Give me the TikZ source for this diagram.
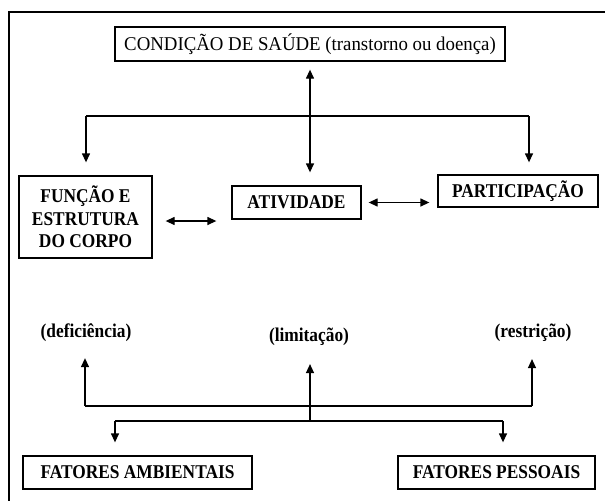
\documentclass[tikz,border=0pt]{standalone}
\usepackage{fontspec}
\setmainfont[FakeStretch=0.89]{Liberation Serif}
\newfontfamily\largafont[FakeStretch=0.965]{Liberation Serif}
\usetikzlibrary{shapes,arrows,arrows.meta,positioning,calc}

\begin{document}
\begin{tikzpicture}[x=1pt, y=-1pt, >={Stealth[length=9pt,width=8pt,inset=0pt]}]
    \tikzstyle{caixa} = [rectangle, draw, line width=1.3pt, inner sep=0pt, align=center, font=\fontsize{19.5}{22.5}\selectfont\bfseries]
    \tikzstyle{rotulo} = [inner sep=0pt, font=\fontsize{19.5}{22.5}\selectfont\bfseries]
    \tikzstyle{liga} = [line width=1.3pt]

    \useasboundingbox (0,0) rectangle (605,501);
    % Moldura
    \draw[line width=1.3pt] (605,12) -- (9,12) -- (9,501);

    % Nós
    \node[caixa, minimum width=390pt, minimum height=34pt, font=\fontsize{19.5}{22.5}\largafont] (saude) at (310,44)
        {CONDIÇÃO DE SAÚDE (transtorno ou doença)};
    \node[caixa, minimum width=133pt, minimum height=82pt] (corpo) at (85.5,217)
        {FUNÇÃO E\\ESTRUTURA\\DO CORPO};
    \node[caixa, minimum width=129pt, minimum height=33pt] (atividade) at (296.5,202.5) {ATIVIDADE};
    \node[caixa, minimum width=160pt, minimum height=32pt] (participacao) at (518,191) {PARTICIPAÇÃO};

    \node[rotulo] (deficiencia) at (86,333) {(deficiência)};
    \node[rotulo] (limitacao) at (309,337) {(limitação)};
    \node[rotulo] (restricao) at (533,333) {(restrição)};

    \node[caixa, minimum width=229pt, minimum height=33pt] (ambientais) at (137.5,472.5) {FATORES AMBIENTAIS};
    \node[caixa, minimum width=197pt, minimum height=33pt] (pessoais) at (496.5,472.5) {FATORES PESSOAIS};

    % Pontos de junção
    \coordinate (centro) at (310,116);
    \coordinate (esqA) at (86,116);
    \coordinate (dirA) at (529,116);
    \coordinate (esqB) at (85,406);
    \coordinate (dirB) at (532,406);
    \coordinate (centroB) at (310,421);
    \coordinate (esqC) at (115,421);
    \coordinate (dirC) at (503,421);

    % Ligações
    \draw[liga, <->, shorten <=8pt, shorten >=13pt] (saude.south -| centro) -- (atividade.north -| centro);
    \draw[liga] (esqA) -- (dirA);
    \draw[liga, ->, shorten >=13pt] (esqA) -- (esqA |- corpo.north);
    \draw[liga, ->, shorten >=12pt] (dirA) -- (dirA |- participacao.north);
    \draw[liga, <->, shorten <=13pt, shorten >=15pt] ([yshift=-4pt]corpo.east) -- ([yshift=-4pt]corpo.east -| atividade.west);
    \draw[liga, <->, shorten <=7pt, shorten >=8pt] (atividade.east) -- (atividade.east -| participacao.west);

    \draw[liga] (esqB) -- (dirB);
    \draw[liga, ->, shorten >=16pt] (esqB) -- (esqB |- deficiencia.south);
    \draw[liga, ->, shorten >=17pt] (dirB) -- (dirB |- restricao.south);
    \draw[liga, ->, shorten >=18pt] (centroB) -- (centroB |- limitacao.south);
    \draw[liga] (esqC) -- (dirC);
    \draw[liga, ->, shorten >=13pt] (esqC) -- (esqC |- ambientais.north);
    \draw[liga, ->, shorten >=13pt] (dirC) -- (dirC |- pessoais.north);
\end{tikzpicture}
\end{document}
